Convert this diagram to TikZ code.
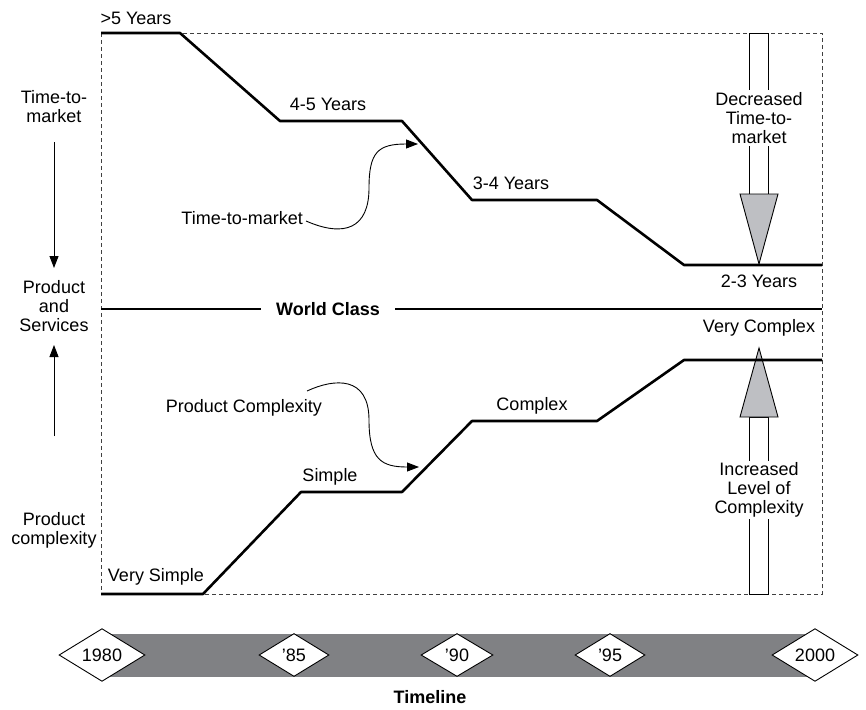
\documentclass[tikz,border=0pt]{standalone}
\usepackage{fontspec}
\setmainfont{Liberation Sans}
\usetikzlibrary{arrows.meta,shapes.geometric}
\definecolor{bandgray}{HTML}{808184}
\definecolor{headgray}{HTML}{BEBFC3}
\begin{document}
\begin{tikzpicture}[x=1pt,y=-1pt,
  every node/.style={font=\fontsize{18}{19}\selectfont, inner sep=1pt, align=center},
  stepline/.style={line width=2.6pt, line join=round},
  frame/.style={dash pattern=on 4pt off 3pt, line width=0.8pt, draw=black!75},
  pointer/.style={line width=0.9pt, -{Triangle[length=12pt,width=9pt]}},
  sidearrow/.style={line width=1pt, -{Triangle[length=12pt,width=9pt]}},
  shaft/.style={draw, fill=white, line width=0.9pt},
  bighead/.style={draw, fill=headgray, line width=0.9pt, line join=miter},
  gaplabel/.style={fill=white, inner xsep=2pt, inner ysep=2pt},
  year/.style={diamond, draw, fill=white, line width=0.9pt, inner sep=0pt, minimum height=43pt},
  boldlabel/.style={font=\fontsize{18}{19}\selectfont\bfseries}]
\useasboundingbox (0,0) rectangle (866,709);

% dashed frame around the chart area
\draw[frame] (101,33) rectangle (822,594);

% left-hand axis labels and arrows
\node (ttm) at (54,107) {Time-to-\\market};
\node (ps) at (54,306) {Product\\and\\Services};
\node (pc) at (54,530) {Product\\complexity};
\coordinate (ttmfoot) at (54,142);
\coordinate (pshead) at (54,268);
\coordinate (pcfoot) at (54,436);
\coordinate (pstail) at (54,345);
\draw[sidearrow] (ttmfoot) -- (pshead);
\draw[sidearrow] (pcfoot) -- (pstail);

% world class divider
\draw[line width=2.6pt] (101,309) -- (822,309);
\node[boldlabel, fill=white, inner xsep=15pt] (wc) at (328,309) {World Class};

% decreased time-to-market arrow
\draw[shaft] (749,33) rectangle (768,194);
\node[gaplabel] (dec) at (759,118) {Decreased\\Time-to-\\market};
\draw[bighead] (740,194) -- (778,194) -- (759,264) -- cycle;

% increased complexity arrow
\draw[shaft] (749,417) rectangle (768,594);
\node[gaplabel] (inc) at (759,490) {Increased\\Level of\\Complexity};
\draw[bighead] (740,417) -- (778,417) -- (759,348) -- cycle;

% time-to-market step curve
\draw[stepline] (101,33) -- (180,33) -- (280,121) -- (402,121) -- (472,200)
  -- (597,200) -- (684,265) -- (822,265);
% product complexity step curve
\draw[stepline] (101,594) -- (203,594) -- (301,492) -- (402,492) -- (472,421)
  -- (597,421) -- (684,360) -- (822,360);

% step labels
\node (y5) at (136,18) {>5 Years};
\node (y45) at (328,104) {4-5 Years};
\node (y34) at (511,183) {3-4 Years};
\node (y23) at (759,281) {2-3 Years};
\node (vc) at (759,328) {Very Complex};
\node (cx) at (532,406) {Complex};
\node (sp) at (330,477) {Simple};
\node (vs) at (156,577) {Very Simple};

% curved pointers to the curves
\node[anchor=east] (ttmc) at (304,218) {Time-to-market};
\coordinate (ttmtip) at (418,144);
\draw[pointer] ([xshift=2pt,yshift=-3pt]ttmc.east) .. controls (345,238) and (369,228) .. (369,188)
  .. controls (369,152) and (378,144) .. (ttmtip);

\node (pcc) at (244,408) {Product Complexity};
\coordinate (pcstart) at (307,391);
\coordinate (pctip) at (419,467);
\draw[pointer] (pcstart) .. controls (335,378) and (369,376) .. (369,420)
  .. controls (369,460) and (382,467) .. (pctip);

% timeline band with year markers
\fill[bandgray] (100,634) rectangle (815,677);
\node[year, minimum width=86pt] (t80) at (102,655) {1980};
\node[year, minimum width=70pt] (t85) at (294,655) {’85};
\node[year, minimum width=72pt] (t90) at (457,655) {’90};
\node[year, minimum width=70pt] (t95) at (610,655) {’95};
\node[year, minimum width=86pt] (t00) at (815,655) {2000};
\node[boldlabel] (tl) at (430,697) {Timeline};
\end{tikzpicture}
\end{document}
